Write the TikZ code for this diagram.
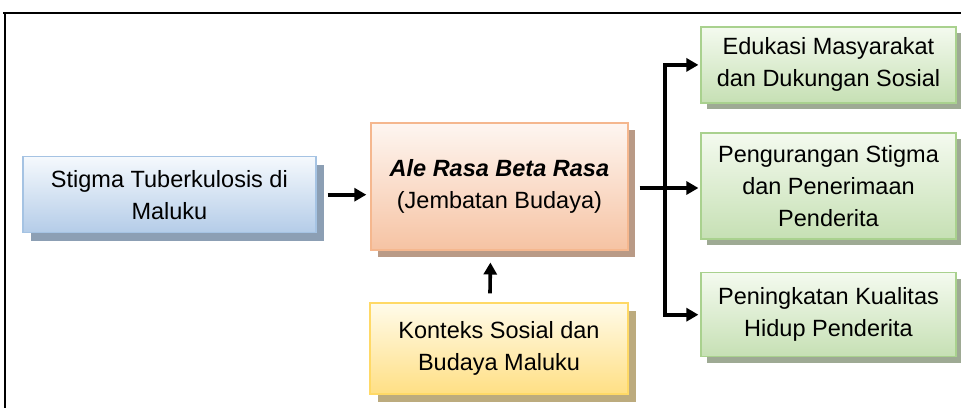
\documentclass[tikz,border=0pt]{standalone}
\usepackage{fontspec}
\setmainfont{Liberation Sans}
\usepackage{tikz}
\usetikzlibrary{arrows.meta, shadows}

\definecolor{bluetop}{HTML}{F5F9FD}
\definecolor{bluebot}{HTML}{B4CCE8}
\definecolor{blueline}{HTML}{A5C3E3}
\definecolor{blueshade}{HTML}{8C9FB4}
\definecolor{orgtop}{HTML}{FEF6F1}
\definecolor{orgbot}{HTML}{F6C3A3}
\definecolor{orgline}{HTML}{F5B78E}
\definecolor{orgshade}{HTML}{B99A86}
\definecolor{yeltop}{HTML}{FFFBEA}
\definecolor{yelbot}{HTML}{FFDF84}
\definecolor{yelline}{HTML}{FFD966}
\definecolor{yelshade}{HTML}{BCAB7E}
\definecolor{grntop}{HTML}{F4FAEF}
\definecolor{grnbot}{HTML}{C6E0B4}
\definecolor{grnline}{HTML}{A9D18E}
\definecolor{grnshade}{HTML}{9EAA94}

\begin{document}
\begin{tikzpicture}[x=1pt,y=-1pt,line cap=butt,line join=miter,
		box/.style={rectangle, align=center, inner sep=2pt, line width=1.2pt,
			font=\fontsize{23.5}{32}\selectfont},
		bluebox/.style={box, draw=blueline, top color=bluetop, bottom color=bluebot,
			drop shadow={shadow xshift=8pt, shadow yshift=-8pt, fill=blueshade, opacity=1}},
		orgbox/.style={box, draw=orgline, top color=orgtop, bottom color=orgbot,
			drop shadow={shadow xshift=7pt, shadow yshift=-7pt, fill=orgshade, opacity=1}},
		yelbox/.style={box, draw=yelline, top color=yeltop, bottom color=yelbot,
			drop shadow={shadow xshift=8pt, shadow yshift=-8pt, fill=yelshade, opacity=1}},
		grnbox/.style={box, draw=grnline, top color=grntop, bottom color=grnbot,
			minimum width=255pt,
			drop shadow={shadow xshift=6pt, shadow yshift=-6pt, fill=grnshade, opacity=1}},
		arr/.style={line width=3.6pt, -{Triangle[length=12pt,width=13pt]}}]
		\useasboundingbox (0,0) rectangle (961,408);
		% frame
		\draw[line width=1.3pt] (3,13) -- (961,13);
		\draw[line width=1.3pt] (5,13) -- (5,408);
		% boxes
		\node[bluebox, minimum width=293pt, minimum height=76pt] (stigma) at (169.4,194.7)
			{Stigma Tuberkulosis di\\Maluku};
		\node[orgbox, minimum width=257pt, minimum height=127pt] (jembatan) at (499.4,186.4)
			{\textbf{\textit{Ale Rasa Beta Rasa}}\\(Jembatan Budaya)};
		\node[yelbox, minimum width=258pt, minimum height=91pt] (konteks) at (499,348.4)
			{Konteks Sosial dan\\Budaya Maluku};
		\node[grnbox, minimum height=76pt] (edukasi) at (828.5,64.9)
			{Edukasi Masyarakat\\dan Dukungan Sosial};
		\node[grnbox, minimum height=106pt] (penerimaan) at (828.5,186)
			{Pengurangan Stigma\\dan Penerimaan\\Penderita};
		\node[grnbox, minimum height=84pt] (kualitas) at (828.5,314.7)
			{Peningkatan Kualitas\\Hidup Penderita};
		% connectors
		\coordinate (split) at (665,188);
		\draw[arr, shorten >=4pt] ([xshift=11pt]stigma.east) -- (jembatan.west |- stigma.east);
		\draw[arr] ([xshift=-9pt,yshift=9pt]konteks.north) -- ([xshift=-9pt,yshift=-12pt]jembatan.south);
		\draw[line width=3.6pt] ([xshift=11pt]jembatan.east |- split) -- (split);
		\draw[arr, shorten >=2pt] ([yshift=-1.8pt]split) |- (edukasi.west);
		\draw[arr, shorten >=2pt] (split) -- (penerimaan.west |- split);
		\draw[arr, shorten >=2pt] ([yshift=1.8pt]split) |- (kualitas.west);
	\end{tikzpicture}
\end{document}
